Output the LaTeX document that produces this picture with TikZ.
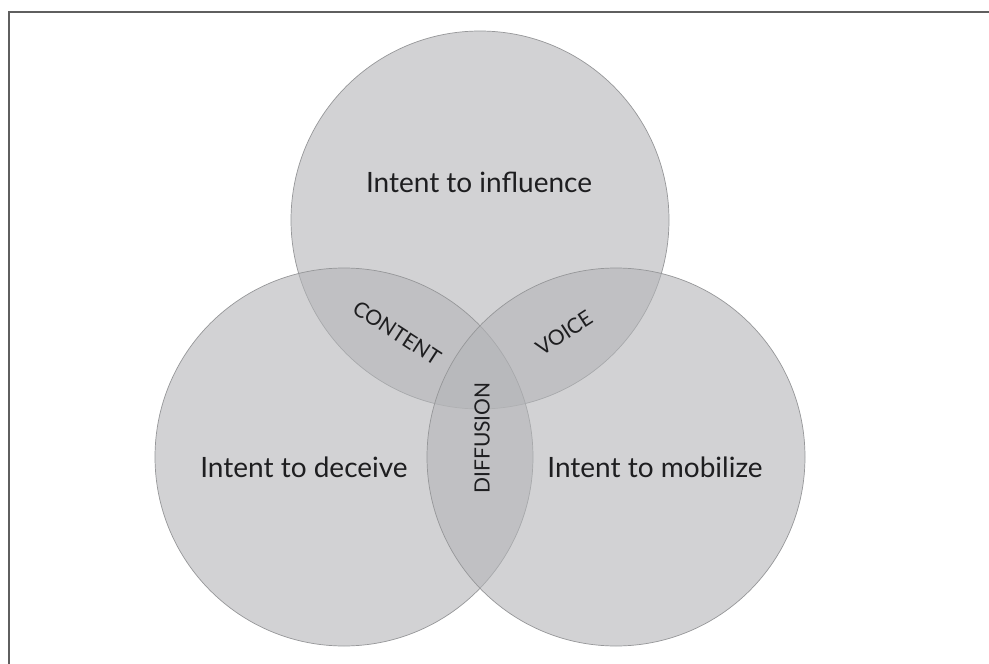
\documentclass[tikz,border=0pt]{standalone}
\usepackage{fontspec}
\setmainfont{Lato}
\definecolor{circfill}{RGB}{180,181,184}
\definecolor{circline}{RGB}{150,151,153}
\definecolor{framecol}{RGB}{95,95,95}
\definecolor{txt}{RGB}{30,30,32}
\tikzset{
  venn/.style={circle, minimum size=378pt, inner sep=0pt, fill=circfill, fill opacity=0.6, draw=circline, draw opacity=1, line width=0.7pt},
  biglabel/.style={text=txt, font=\fontsize{28}{30}\selectfont, inner sep=0pt, anchor=base},
  smalllabel/.style={text=txt, font=\fontsize{21}{23}\selectfont, inner sep=0pt}
}
\begin{document}
\begin{tikzpicture}[x=1pt,y=-1pt]
\useasboundingbox (0,0) rectangle (989,664);
\fill[white] (0,0) rectangle (989,664);
\draw[framecol, line width=2pt] (9,664) -- (9,12) -- (989,12);
\node[venn] (top) at (480,220) {};
\node[venn] (left) at (344,457) {};
\node[venn] (right) at (616,457) {};
\node[biglabel] (infl) at (479,192) {Intent to influence};
\node[biglabel] (dec) at (304,477) {Intent to deceive};
\node[biglabel] (mob) at (655,477) {Intent to mobilize};
\node[smalllabel, rotate=-33] (content) at (397,333) {CONTENT};
\node[smalllabel, rotate=33] (voice) at (564,333) {VOICE};
\node[smalllabel, rotate=90] (diff) at (482,438) {DIFFUSION};
\end{tikzpicture}
\end{document}
